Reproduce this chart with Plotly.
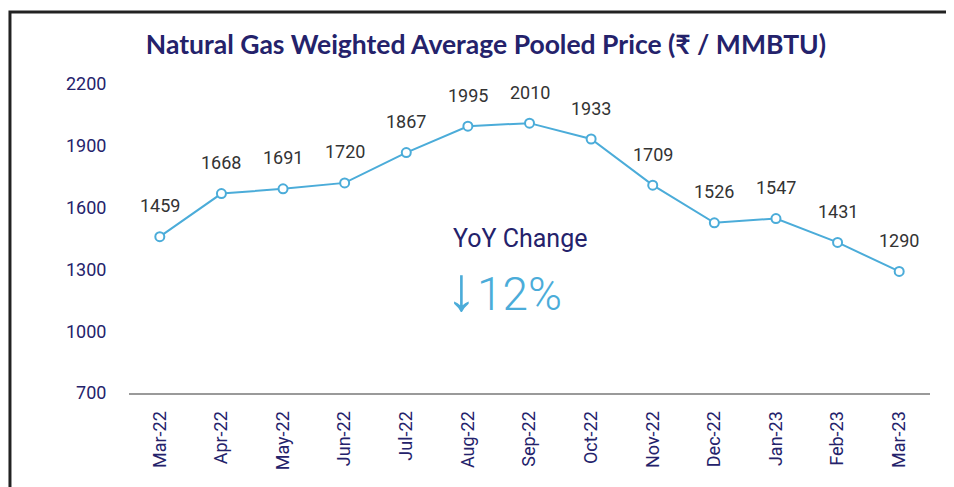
import plotly.graph_objects as go

months = ["Mar-22", "Apr-22", "May-22", "Jun-22", "Jul-22", "Aug-22", "Sep-22",
          "Oct-22", "Nov-22", "Dec-22", "Jan-23", "Feb-23", "Mar-23"]
prices = [1459, 1668, 1691, 1720, 1867, 1995, 2010, 1933, 1709, 1526, 1547, 1431, 1290]
y_ticks = [700, 1000, 1300, 1600, 1900, 2200]

NAVY = "#24226b"
BLUE = "#4bacd9"

fig = go.Figure()
fig.add_trace(go.Scatter(
    x=list(range(len(months))), y=prices, mode="lines+markers",
    line=dict(color=BLUE, width=2),
    marker=dict(symbol="circle", size=9, color="white", line=dict(color=BLUE, width=2)),
    hoverinfo="skip", showlegend=False,
))

for i, v in enumerate(prices):
    fig.add_annotation(x=i, y=v, text=str(v), showarrow=False, yshift=31,
                       font=dict(family="Roboto", size=18, color="#333333"))

fig.add_annotation(x=5.84, y=1452, text="YoY Change", showarrow=False,
                   font=dict(family="Roboto", size=25, color=NAVY))
fig.add_annotation(x=5.59, y=1207,
                   text="<span style='font-size:62px'>↓</span>12%", showarrow=False,
                   font=dict(family="Roboto", size=46, color=BLUE, weight=300))

# frame (left and top border)
fig.add_shape(type="path", xref="paper", yref="paper",
              path="M -0.1486 -0.4 L -0.1486 1.233 L 1.2 1.233",
              line=dict(color="#222222", width=3))

fig.update_layout(
    width=954, height=487,
    margin=dict(l=121, r=32, t=76, b=102),
    paper_bgcolor="white", plot_bgcolor="white",
    title=dict(text="<b>Natural Gas Weighted Average Pooled Price (₹ / MMBTU)</b>",
               x=0.501, xanchor="center", y=0.924, yanchor="middle",
               font=dict(family="Lato", size=26.5, color=NAVY)),
    xaxis=dict(range=[-0.5, 12.5], tickmode="array", tickvals=list(range(len(months))),
               ticktext=months, tickangle=-90, showgrid=False, zeroline=False,
               showline=True, linecolor="#9a9a9a", linewidth=2,
               ticks="outside", ticklen=9, tickcolor="rgba(0,0,0,0)",
               tickfont=dict(family="Roboto", size=18, color=NAVY)),
    yaxis=dict(range=[700, 2200], tickmode="array", tickvals=y_ticks,
               showgrid=False, zeroline=False, showline=False,
               ticks="outside", ticklen=18, tickcolor="rgba(0,0,0,0)",
               tickfont=dict(family="Roboto", size=18, color=NAVY)),
)

fig.write_html("out.html")
